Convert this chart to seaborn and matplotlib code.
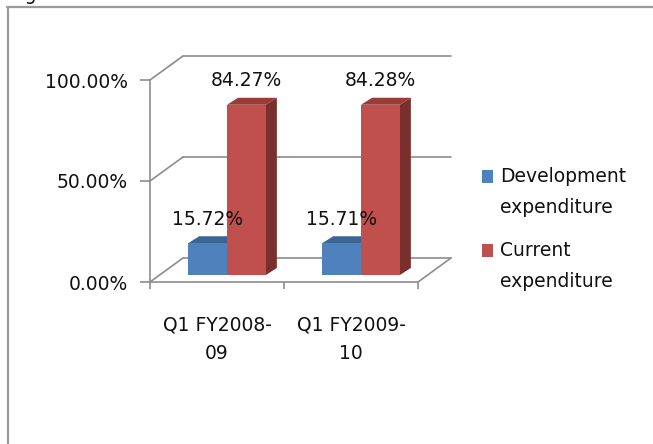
import numpy as np
import pandas as pd
import matplotlib.pyplot as plt
import seaborn as sns
from matplotlib.patches import Polygon, Rectangle
from matplotlib.lines import Line2D
from matplotlib.transforms import ScaledTranslation, IdentityTransform
from matplotlib.ticker import FuncFormatter

# data
periods = ["Q1 FY2008-\n09", "Q1 FY2009-\n10"]
series = ["Development\nexpenditure", "Current\nexpenditure"]
development = [0.1572, 0.1571]
current = [0.8427, 0.8428]
y_ticks = [0.0, 0.5, 1.0]

front_colors = ["#4F81BD", "#C0504D"]
top_colors = ["#3C6596", "#9C3C39"]
side_colors = ["#345683", "#7B2F2D"]
GRID = "#8c8c8c"
TXT = "#111111"

df = pd.DataFrame({
    "period": periods * 2,
    "series": [series[0]] * 2 + [series[1]] * 2,
    "share": development + current,
})

sns.set_style("white")
plt.rcParams["font.family"] = ["DejaVu Sans"]
plt.rcParams["text.color"] = TXT
FS = 13.5

W, H = 653, 444
fig = plt.figure(figsize=(W / 100, H / 100), dpi=100)
ax = fig.add_axes([150 / W, 1 - 282 / H, 268 / W, 202 / H])

sns.barplot(data=df, x="period", y="share", hue="series", hue_order=series,
            palette=front_colors, width=0.58, saturation=1, errorbar=None,
            legend=False, ax=ax, zorder=3)

ax.set_xlim(-0.5, 1.5)
ax.set_ylim(0, 1)
ax.patch.set_visible(False)
ax.set_xlabel("")
ax.set_ylabel("")
for s in ["top", "right"]:
    ax.spines[s].set_visible(False)
for s in ["left", "bottom"]:
    ax.spines[s].set_color(GRID)
    ax.spines[s].set_linewidth(1.2)

ax.set_yticks(y_ticks)
ax.yaxis.set_major_formatter(FuncFormatter(lambda v, p: f"{v * 100:.2f}%"))
ax.tick_params(axis="y", length=7, width=1.2, color=GRID, pad=9, labelsize=FS,
               labelcolor=TXT, left=True, direction="out")
ax.set_xticks([0, 1])
ax.set_xticklabels(periods, linespacing=1.62)
ax.set_xticks([-0.5, 0.5, 1.5], minor=True)
ax.tick_params(axis="x", which="major", length=0, pad=24, labelsize=FS,
               labelcolor=TXT)
ax.tick_params(axis="x", which="minor", length=5, width=1.2, color=GRID,
               bottom=True, direction="out")

# 3D walls: offsets in pixels
wall_dx, wall_dy = 33, 24
bar_dx, bar_dy = 10, 7
dep_dx, dep_dy = 11, 7
ident = IdentityTransform()


def disp(x, y):
    return ax.transData.transform((x, y))


def add_line(p0, p1):
    ax.add_line(Line2D([p0[0], p1[0]], [p0[1], p1[1]], transform=ident,
                       color=GRID, lw=1.2, zorder=1, clip_on=False))


for v in y_ticks:
    a = disp(-0.5, v)
    b = disp(1.5, v)
    add_line(a, a + (wall_dx, wall_dy))
    add_line(a + (wall_dx, wall_dy), b + (wall_dx, wall_dy))
f = disp(1.5, 0)
add_line(f, f + (wall_dx, wall_dy))

# bar faces
shift = ScaledTranslation(bar_dx / 100, bar_dy / 100, fig.dpi_scale_trans)
bars = list(ax.patches)
for i, p in enumerate(bars):
    k = 0 if i < len(periods) else 1
    x0, w, h = p.get_x(), p.get_width(), p.get_height()
    p.set_transform(ax.transData + shift)
    p.set_edgecolor("none")
    off = np.array([bar_dx, bar_dy])
    d = np.array([dep_dx, dep_dy])
    bl, br = disp(x0, 0) + off, disp(x0 + w, 0) + off
    tl, tr = disp(x0, h) + off, disp(x0 + w, h) + off
    ax.add_patch(Polygon([tl, tr, tr + d, tl + d], closed=True, transform=ident,
                         facecolor=top_colors[k], edgecolor="none", zorder=2,
                         clip_on=False))
    ax.add_patch(Polygon([br, tr, tr + d, br + d], closed=True, transform=ident,
                         facecolor=side_colors[k], edgecolor="none", zorder=2,
                         clip_on=False))
    ax.annotate(f"{h * 100:.2f}%", xy=(x0 + w / 2, h), xytext=(bar_dx, bar_dy + 24),
                textcoords="offset pixels", ha="center", va="center",
                fontsize=FS, zorder=10, annotation_clip=False)

# legend
for k, lab in enumerate(series):
    top = [170, 244][k]
    fig.add_artist(Rectangle((482 / W, 1 - (top + 13) / H), 11 / W, 13 / H,
                             transform=fig.transFigure, facecolor=front_colors[k],
                             edgecolor="none"))
    fig.text(500 / W, 1 - (top - 3) / H, lab, ha="left", va="top",
             fontsize=FS, linespacing=1.8)

# frame and cut caption
fig.add_artist(Line2D([7.5 / W, 7.5 / W], [0, 1 - 7 / H], transform=fig.transFigure,
                      color="#9a9a9a", lw=1.6))
fig.add_artist(Line2D([7 / W, 1], [1 - 7.5 / H, 1 - 7.5 / H], transform=fig.transFigure,
                      color="#9a9a9a", lw=1.6))
fig.text(10 / W, 1 + 0.5 / H, "Figure", ha="left", va="baseline", fontsize=FS)

fig.savefig("out.png", dpi=100)
